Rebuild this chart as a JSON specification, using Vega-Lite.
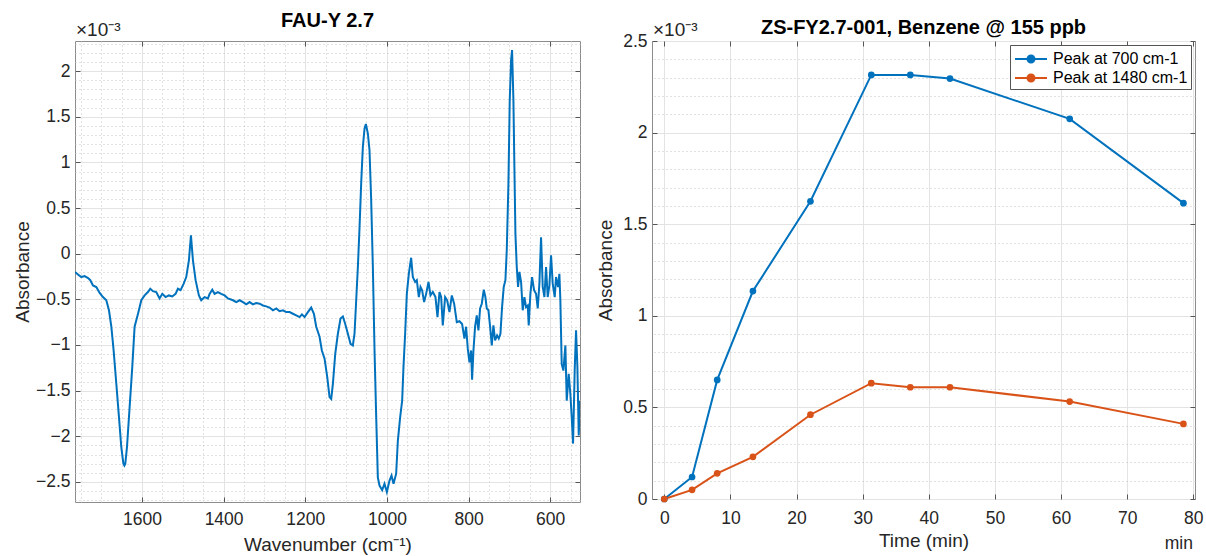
{
  "$schema": "https://vega.github.io/schema/vega-lite/v6.json",
  "padding": {"left": 12, "top": 10, "right": 5, "bottom": 0},
  "spacing": 12,
  "resolve": {"legend": {"color": "independent"}},
  "datasets": {
    "spectrum": [
      {"w":1764,"a":-0.20},{"w":1756.7,"a":-0.227},{"w":1748.5,"a":-0.256},{"w":1740.4,"a":-0.245},{"w":1732,"a":-0.267},
      {"w":1726.5,"a":-0.29},{"w":1720,"a":-0.347},{"w":1711.8,"a":-0.365},{"w":1703.6,"a":-0.43},{"w":1695.5,"a":-0.475},
      {"w":1687.3,"a":-0.51},{"w":1680.8,"a":-0.62},{"w":1675,"a":-0.80},{"w":1669.4,"a":-1.06},{"w":1662.8,"a":-1.425},
      {"w":1656.3,"a":-1.79},{"w":1650.6,"a":-2.12},{"w":1645.5,"a":-2.30},{"w":1643,"a":-2.32},{"w":1640.8,"a":-2.30},
      {"w":1636.7,"a":-2.12},{"w":1630.2,"a":-1.68},{"w":1623.7,"a":-1.24},{"w":1618,"a":-0.80},{"w":1609.8,"a":-0.66},
      {"w":1601.6,"a":-0.51},{"w":1593.5,"a":-0.457},{"w":1585.3,"a":-0.42},{"w":1579.6,"a":-0.384},{"w":1573.1,"a":-0.41},
      {"w":1565,"a":-0.42},{"w":1556.8,"a":-0.49},{"w":1550.2,"a":-0.44},{"w":1542.1,"a":-0.475},{"w":1534,"a":-0.457},
      {"w":1525.7,"a":-0.468},{"w":1517.6,"a":-0.44},{"w":1511.9,"a":-0.384},{"w":1505.4,"a":-0.40},{"w":1498,"a":-0.33},
      {"w":1491.5,"a":-0.256},{"w":1485,"a":-0.073},{"w":1480,"a":0.20},{"w":1475.1,"a":-0.073},{"w":1468.6,"a":-0.29},
      {"w":1460.5,"a":-0.457},{"w":1454.8,"a":-0.51},{"w":1446.6,"a":-0.475},{"w":1438.4,"a":-0.49},{"w":1434.3,"a":-0.44},
      {"w":1427.8,"a":-0.395},{"w":1422.1,"a":-0.44},{"w":1414,"a":-0.42},{"w":1405.8,"a":-0.44},{"w":1397.5,"a":-0.457},
      {"w":1389.4,"a":-0.49},{"w":1377,"a":-0.51},{"w":1369,"a":-0.53},{"w":1360.8,"a":-0.51},{"w":1352.6,"a":-0.53},
      {"w":1344.5,"a":-0.555},{"w":1336.3,"a":-0.53},{"w":1328.2,"a":-0.555},{"w":1320,"a":-0.54},{"w":1311.8,"a":-0.548},
      {"w":1303.7,"a":-0.567},{"w":1295.5,"a":-0.577},{"w":1287.4,"a":-0.59},{"w":1279.2,"a":-0.62},{"w":1271,"a":-0.60},
      {"w":1262.9,"a":-0.63},{"w":1254.7,"a":-0.62},{"w":1246.6,"a":-0.64},{"w":1238.4,"a":-0.64},{"w":1230.2,"a":-0.658},
      {"w":1222.1,"a":-0.676},{"w":1213.9,"a":-0.694},{"w":1208.2,"a":-0.665},{"w":1201.7,"a":-0.694},{"w":1193.5,"a":-0.64},
      {"w":1185.4,"a":-0.59},{"w":1178.8,"a":-0.658},{"w":1173.1,"a":-0.80},{"w":1165,"a":-0.91},{"w":1159.3,"a":-1.06},
      {"w":1152.7,"a":-1.15},{"w":1146.2,"a":-1.35},{"w":1140.5,"a":-1.57},{"w":1136.4,"a":-1.59},{"w":1132.3,"a":-1.425},
      {"w":1126.6,"a":-1.10},{"w":1120.1,"a":-0.877},{"w":1113.6,"a":-0.71},{"w":1107.8,"a":-0.687},{"w":1102.1,"a":-0.77},
      {"w":1095.6,"a":-0.877},{"w":1089.1,"a":-0.987},{"w":1083.4,"a":-1.005},{"w":1079.3,"a":-0.877},{"w":1075.2,"a":-0.51},
      {"w":1071.1,"a":-0.146},{"w":1067,"a":0.29},{"w":1063,"a":0.77},{"w":1058.9,"a":1.17},{"w":1054.8,"a":1.37},
      {"w":1051.5,"a":1.42},{"w":1046.6,"a":1.316},{"w":1042.6,"a":1.133},{"w":1038.5,"a":0.585},{"w":1034.4,"a":-0.146},
      {"w":1030.3,"a":-1.06},{"w":1026.2,"a":-1.79},{"w":1022.2,"a":-2.45},{"w":1018.1,"a":-2.54},{"w":1011.6,"a":-2.59},
      {"w":1005.9,"a":-2.52},{"w":1000.1,"a":-2.61},{"w":993.6,"a":-2.485},{"w":988.7,"a":-2.43},{"w":983.8,"a":-2.52},
      {"w":977.3,"a":-2.41},{"w":973.2,"a":-2.05},{"w":967.5,"a":-1.79},{"w":962.6,"a":-1.61},{"w":959.4,"a":-1.24},
      {"w":955.3,"a":-0.877},{"w":951.2,"a":-0.44},{"w":946.3,"a":-0.22},{"w":940.6,"a":-0.044},{"w":936.5,"a":-0.256},
      {"w":930.8,"a":-0.31},{"w":926.7,"a":-0.29},{"w":921.8,"a":-0.475},{"w":917.7,"a":-0.365},{"w":913.7,"a":-0.40},
      {"w":908.8,"a":-0.53},{"w":903.9,"a":-0.44},{"w":898.1,"a":-0.31},{"w":893.2,"a":-0.457},{"w":887.5,"a":-0.42},
      {"w":881,"a":-0.475},{"w":876.1,"a":-0.694},{"w":871.2,"a":-0.42},{"w":867.1,"a":-0.475},{"w":863.1,"a":-0.786},
      {"w":857.4,"a":-0.475},{"w":852.4,"a":-0.51},{"w":846.8,"a":-0.64},{"w":841,"a":-0.457},{"w":835.3,"a":-0.548},
      {"w":828.8,"a":-0.75},{"w":822.3,"a":-0.74},{"w":815.8,"a":-0.77},{"w":810.1,"a":-0.93},{"w":806,"a":-0.80},
      {"w":801.9,"a":-1.04},{"w":797.8,"a":-1.19},{"w":793.7,"a":-1.06},{"w":791.3,"a":-1.38},{"w":788,"a":-1.06},
      {"w":784,"a":-0.80},{"w":779.9,"a":-0.676},{"w":775.8,"a":-0.84},{"w":771.7,"a":-0.60},{"w":767.6,"a":-0.548},
      {"w":762.7,"a":-0.395},{"w":758.7,"a":-0.475},{"w":755.4,"a":-0.60},{"w":751.3,"a":-0.62},{"w":747.2,"a":-0.80},
      {"w":743.1,"a":-1.005},{"w":739.1,"a":-0.786},{"w":735,"a":-0.95},{"w":730.1,"a":-0.895},{"w":726,"a":-0.93},
      {"w":721.9,"a":-0.877},{"w":717.9,"a":-0.585},{"w":713.8,"a":-0.365},{"w":709.7,"a":-0.29},{"w":706.4,"a":0.037},
      {"w":702.3,"a":0.77},{"w":699.1,"a":1.68},{"w":695.8,"a":2.12},{"w":693.4,"a":2.23},{"w":690.1,"a":1.68},
      {"w":687.7,"a":0.95},{"w":685.2,"a":0.22},{"w":681.9,"a":-0.146},{"w":678.7,"a":-0.365},{"w":675.4,"a":-0.20},
      {"w":671.3,"a":-0.31},{"w":667.3,"a":-0.62},{"w":663.2,"a":-0.475},{"w":659.1,"a":-0.585},{"w":655,"a":-0.567},
      {"w":652.6,"a":-0.786},{"w":648.5,"a":-0.44},{"w":644.4,"a":-0.256},{"w":639.5,"a":-0.40},{"w":634.6,"a":-0.44},
      {"w":630.5,"a":-0.60},{"w":626.5,"a":-0.33},{"w":622.4,"a":0.18},{"w":618.3,"a":-0.365},{"w":614.2,"a":-0.475},
      {"w":610.1,"a":-0.146},{"w":606.1,"a":-0.475},{"w":602,"a":-0.347},{"w":597.9,"a":-0.018},{"w":593.8,"a":-0.33},
      {"w":588.9,"a":-0.475},{"w":585.7,"a":-0.256},{"w":580.8,"a":-0.365},{"w":577.5,"a":-0.22},{"w":575.1,"a":-0.51},
      {"w":571.8,"a":-1.21},{"w":567.7,"a":-1.28},{"w":562.8,"a":-1.005},{"w":559.5,"a":-1.61},{"w":554.6,"a":-1.315},
      {"w":550.6,"a":-1.535},{"w":547.3,"a":-1.79},{"w":544,"a":-2.08},{"w":540,"a":-1.28},{"w":536.7,"a":-0.84},
      {"w":533.4,"a":-1.24},{"w":530.1,"a":-1.99},{"w":527,"a":-1.61}
    ],
    "peaks": [
      {"t":0,"v":0,"s":"Peak at 700 cm-1"},{"t":4.2,"v":0.12,"s":"Peak at 700 cm-1"},{"t":8.0,"v":0.65,"s":"Peak at 700 cm-1"},
      {"t":13.4,"v":1.135,"s":"Peak at 700 cm-1"},{"t":22.1,"v":1.625,"s":"Peak at 700 cm-1"},{"t":31.3,"v":2.315,"s":"Peak at 700 cm-1"},
      {"t":37.2,"v":2.315,"s":"Peak at 700 cm-1"},{"t":43.2,"v":2.295,"s":"Peak at 700 cm-1"},{"t":61.3,"v":2.075,"s":"Peak at 700 cm-1"},
      {"t":78.5,"v":1.615,"s":"Peak at 700 cm-1"},
      {"t":0,"v":0,"s":"Peak at 1480 cm-1"},{"t":4.2,"v":0.05,"s":"Peak at 1480 cm-1"},{"t":8.0,"v":0.14,"s":"Peak at 1480 cm-1"},
      {"t":13.4,"v":0.23,"s":"Peak at 1480 cm-1"},{"t":22.1,"v":0.46,"s":"Peak at 1480 cm-1"},{"t":31.3,"v":0.632,"s":"Peak at 1480 cm-1"},
      {"t":37.2,"v":0.61,"s":"Peak at 1480 cm-1"},{"t":43.2,"v":0.61,"s":"Peak at 1480 cm-1"},{"t":61.3,"v":0.532,"s":"Peak at 1480 cm-1"},
      {"t":78.5,"v":0.41,"s":"Peak at 1480 cm-1"}
    ]
  },
  "hconcat": [
    {
      "width": 505,
      "height": 461,
      "title": {"text": "FAU-Y 2.7", "fontSize": 20, "fontWeight": "bold", "color": "#000000", "offset": -10},
      "data": {"name": "spectrum"},
      "layer": [
        {
          "mark": {"type": "line", "color": "#0072BD", "strokeWidth": 2, "clip": true},
          "encoding": {
            "x": {"field": "w", "type": "quantitative",
                  "scale": {"domain": [1764, 527], "nice": false, "zero": false},
                  "axis": {"title": "Wavenumber (cm⁻¹)", "values": [1600, 1400, 1200, 1000, 800, 600], "format": "~r",
                           "grid": true, "labelPadding": 13, "titlePadding": 8}},
            "y": {"field": "a", "type": "quantitative",
                  "scale": {"domain": [-2.72, 2.33], "nice": false, "zero": false},
                  "axis": {"title": "Absorbance", "values": [-2.5, -2, -1.5, -1, -0.5, 0, 0.5, 1, 1.5, 2], "format": "~r",
                           "grid": true, "labelPadding": 10, "titlePadding": 3}}
          }
        },
        {
          "mark": {"type": "point", "opacity": 0},
          "encoding": {
            "x": {"field": "w", "type": "quantitative",
                  "axis": {"values": [1750, 1700, 1650, 1550, 1500, 1450, 1350, 1300, 1250, 1150, 1100, 1050, 950, 900, 850, 750, 700, 650, 550],
                           "grid": true, "gridDash": [1, 3], "gridColor": "#c4c4c4", "ticks": false, "labels": false, "title": null, "domain": false}},
            "y": {"field": "a", "type": "quantitative",
                  "axis": {"values": [-2.7, -2.6, -2.4, -2.3, -2.2, -2.1, -1.9, -1.8, -1.7, -1.6, -1.4, -1.3, -1.2, -1.1, -0.9, -0.8, -0.7, -0.6, -0.4, -0.3, -0.2, -0.1, 0.1, 0.2, 0.3, 0.4, 0.6, 0.7, 0.8, 0.9, 1.1, 1.2, 1.3, 1.4, 1.6, 1.7, 1.8, 1.9, 2.1, 2.2, 2.3],
                           "grid": true, "gridDash": [1, 3], "gridColor": "#c4c4c4", "ticks": false, "labels": false, "title": null, "domain": false}}
          }
        },
        {
          "mark": {"type": "point", "opacity": 0},
          "encoding": {
            "x": {"field": "w", "type": "quantitative",
                  "axis": {"orient": "top", "values": [1600, 1400, 1200, 1000, 800, 600], "grid": false, "labels": false, "title": null, "domain": false}},
            "y": {"field": "a", "type": "quantitative",
                  "axis": {"orient": "right", "values": [-2.5, -2, -1.5, -1, -0.5, 0, 0.5, 1, 1.5, 2], "grid": false, "labels": false, "title": null, "domain": false}}
          }
        },
        {
          "data": {"values": [{"label": "×10⁻³"}]},
          "mark": {"type": "text", "align": "left", "baseline": "alphabetic", "dx": 1, "dy": -5, "fontSize": 19, "color": "#262626"},
          "encoding": {
            "x": {"datum": 1764, "type": "quantitative", "axis": null},
            "y": {"datum": 2.33, "type": "quantitative", "axis": null},
            "text": {"field": "label"}
          }
        }
      ],
      "resolve": {"axis": {"x": "independent", "y": "independent"}}
    },
    {
      "width": 543,
      "height": 458,
      "title": {"text": "ZS-FY2.7-001, Benzene @ 155 ppb", "fontSize": 20, "fontWeight": "bold", "color": "#000000", "offset": -17},
      "data": {"name": "peaks"},
      "layer": [
        {
          "mark": {"type": "line", "strokeWidth": 2, "point": {"filled": true, "size": 45, "opacity": 1}},
          "encoding": {
            "x": {"field": "t", "type": "quantitative",
                  "scale": {"domain": [-1.86, 80.25], "nice": false, "zero": false},
                  "axis": {"title": "Time (min)", "values": [0, 10, 20, 30, 40, 50, 60, 70, 80], "format": "~r",
                           "grid": true, "labelPadding": 15, "titlePadding": 5}},
            "y": {"field": "v", "type": "quantitative",
                  "scale": {"domain": [0, 2.5], "nice": false},
                  "axis": {"title": "Absorbance", "values": [0, 0.5, 1, 1.5, 2, 2.5], "format": "~r",
                           "grid": true, "labelPadding": 10, "titlePadding": 7}},
            "color": {"field": "s", "type": "nominal",
                      "scale": {"domain": ["Peak at 700 cm-1", "Peak at 1480 cm-1"], "range": ["#0072BD", "#D95319"]},
                      "legend": {"title": null, "orient": "top-right", "offset": 4, "padding": 3,
                                 "strokeColor": "#555555", "fillColor": "#ffffff",
                                 "labelFontSize": 16, "labelColor": "#000000", "labelOffset": 11,
                                 "symbolType": "M-1.6,0H1.6M-0.35,0A0.35,0.35,0,1,1,0.35,0A0.35,0.35,0,1,1,-0.35,0Z",
                                 "symbolSize": 400, "symbolStrokeWidth": 2, "symbolOffset": 7, "rowPadding": 0,
                                 "encode": {"symbols": {"update": {"fill": {"scale": "color", "field": "value"}, "stroke": {"scale": "color", "field": "value"}, "opacity": {"value": 1}}}}}}
          }
        },
        {
          "mark": {"type": "point", "opacity": 0},
          "encoding": {
            "x": {"field": "t", "type": "quantitative", "axis": null},
            "y": {"field": "v", "type": "quantitative",
                  "axis": {"values": [0.1, 0.2, 0.3, 0.4, 0.6, 0.7, 0.8, 0.9, 1.1, 1.2, 1.3, 1.4, 1.6, 1.7, 1.8, 1.9, 2.1, 2.2, 2.3, 2.4],
                           "grid": true, "gridDash": [1, 3], "gridColor": "#c4c4c4", "ticks": false, "labels": false, "title": null, "domain": false}}
          }
        },
        {
          "mark": {"type": "point", "opacity": 0},
          "encoding": {
            "x": {"field": "t", "type": "quantitative",
                  "axis": {"orient": "top", "values": [0, 10, 20, 30, 40, 50, 60, 70, 80], "grid": false, "labels": false, "title": null, "domain": false}},
            "y": {"field": "v", "type": "quantitative",
                  "axis": {"orient": "right", "values": [0, 0.5, 1, 1.5, 2, 2.5], "grid": false, "labels": false, "title": null, "domain": false}}
          }
        },
        {
          "data": {"values": [{"label": "×10⁻³"}]},
          "mark": {"type": "text", "align": "left", "baseline": "alphabetic", "dx": 1, "dy": -5, "fontSize": 19, "color": "#262626"},
          "encoding": {
            "x": {"datum": -1.86, "type": "quantitative", "axis": null},
            "y": {"datum": 2.5, "type": "quantitative", "axis": null},
            "text": {"field": "label"}
          }
        },
        {
          "data": {"values": [{"label": "min"}]},
          "mark": {"type": "text", "align": "right", "baseline": "alphabetic", "dx": -2, "dy": 50, "fontSize": 17.5, "color": "#262626"},
          "encoding": {
            "x": {"datum": 80.25, "type": "quantitative", "axis": null},
            "y": {"datum": 0, "type": "quantitative", "axis": null},
            "text": {"field": "label"}
          }
        }
      ],
      "resolve": {"axis": {"x": "independent", "y": "independent"}}
    }
  ],
  "config": {
    "font": "Liberation Sans",
    "view": {"stroke": "#8c8c8c", "strokeWidth": 1},
    "axis": {
      "domain": false,
      "labelFont": "Liberation Sans",
      "labelFontSize": 17.5,
      "labelColor": "#262626",
      "titleFont": "Liberation Sans",
      "titleFontSize": 19,
      "titleFontWeight": "normal",
      "titleColor": "#262626",
      "gridColor": "#e3e3e3",
      "gridWidth": 1,
      "tickColor": "#555555",
      "tickSize": -5,
      "tickWidth": 1
    },
    "legend": {"labelFont": "Liberation Sans"},
    "title": {"font": "Liberation Sans"}
  }
}
